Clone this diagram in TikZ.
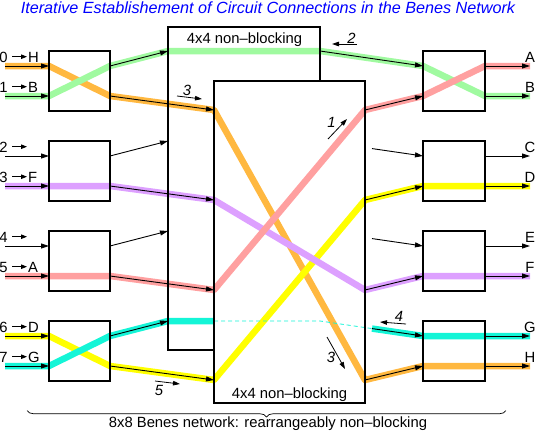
\documentclass[tikz,border=0pt]{standalone}
\usepackage{fontspec}
\setmainfont{Liberation Sans}
\usetikzlibrary{arrows.meta,calc,decorations.pathreplacing}
\definecolor{cOrange}{RGB}{255,184,64}
\definecolor{cGreen}{RGB}{160,250,160}
\definecolor{cRed}{RGB}{255,160,160}
\definecolor{cPurple}{RGB}{221,160,255}
\definecolor{cYellow}{RGB}{255,255,0}
\definecolor{cCyan}{RGB}{20,245,215}
\begin{document}
\begin{tikzpicture}[x=1pt,y=-1pt,
  every node/.style={inner sep=0pt, outer sep=0pt, font=\fontsize{14.8}{17}\selectfont},
  lab/.style={anchor=base},
  numlab/.style={anchor=base, font=\fontsize{14.8}{17}\selectfont\itshape},
  swbox/.style={draw=black, line width=2.2pt, minimum width=61pt, minimum height=60pt},
  boxline/.style={draw=black, line width=2.2pt},
  band/.style={line width=6.5pt, line join=round},
  flow/.style={line width=0.9pt, -{Triangle[length=8pt,width=5pt]}},
  labar/.style={line width=0.9pt, -{Triangle[length=6pt,width=4.5pt]}},
  stepar/.style={line width=0.8pt, -{Triangle[length=7pt,width=4.5pt]}},
  hiddenpath/.style={cCyan, line width=0.8pt, dash pattern=on 4pt off 3pt}
]
\useasboundingbox (0,0) rectangle (536,434);

% ---- ports ----
\foreach \k in {0,...,7}{
  \pgfmathsetmacro\yy{66+90*floor(\k/2)+30*mod(\k,2)}
  \coordinate (I\k) at (5,\yy);
  \coordinate (Li\k) at (49,\yy);
  \coordinate (Lo\k) at (110,\yy);
  \coordinate (Ri\k) at (423,\yy);
  \coordinate (Ro\k) at (485,\yy);
  \coordinate (E\k) at (530,\yy);
}
\foreach \j in {1,...,4}{
  \pgfmathsetmacro\ua{51+90*(\j-1)}
  \pgfmathsetmacro\da{110+90*(\j-1)}
  \coordinate (U\j) at (168,\ua);
  \coordinate (UO\j) at (320,\ua);
  \coordinate (D\j) at (214,\da);
  \coordinate (DO\j) at (365,\da);
}
\coordinate (U4h) at (214,321);
\coordinate (C2) at ($(UO2)!0.505!(Ri2)$);
\coordinate (C3) at ($(UO3)!0.505!(Ri4)$);
\coordinate (C4) at ($(UO4)!0.505!(Ri6)$);

% ---- coloured circuits ----
\draw[band,cOrange] (I0) -- (Li0) -- (Lo1) -- (D1) -- (DO4) -- (Ri7) -- (Ro7) -- (E7);
\draw[band,cYellow] (I6) -- (Li6) -- (Lo7) -- (D4) -- (DO2) -- (Ri3) -- (Ro3) -- (E3);
\draw[band,cPurple] (I3) -- (Li3) -- (Lo3) -- (D2) -- (DO3) -- (Ri5) -- (Ro5) -- (E5);
\draw[band,cGreen] (I1) -- (Li1) -- (Lo0) -- (U1) -- (UO1) -- (Ri0) -- (Ro1) -- (E1);
\draw[band,cRed] (I5) -- (Li5) -- (Lo5) -- (D3) -- (DO1) -- (Ri1) -- (Ro0) -- (E0);
\draw[band,cCyan] (I7) -- (Li7) -- (Lo6) -- (U4) -- (U4h);
\draw[band,cCyan] (C4) -- (Ri6) -- (Ro6) -- (E6);
\draw[hiddenpath] (U4h) -- (UO4) -- (C4);

% ---- switches ----
\foreach \r/\yc in {1/81,2/171,3/261,4/351}{
  \node[swbox] (LB\r) at (79.5,\yc) {};
  \node[swbox, minimum width=62pt] (RB\r) at (454,\yc) {};
}
\coordinate (UBa) at (214,350);
\coordinate (UBb) at (168,350);
\coordinate (UBc) at (168,27);
\coordinate (UBd) at (320,27);
\coordinate (UBe) at (320,81);
\draw[boxline] (UBa) -- (UBb) -- (UBc) -- (UBd) -- (UBe);
\node[draw=black, line width=2.2pt, minimum width=151pt, minimum height=322pt] (LOW) at (289.5,242) {};

% ---- black connection arrows ----
\foreach \k in {0,...,7}{
  \draw[flow] (I\k) -- (Li\k);
  \draw[flow] (Ro\k) -- (E\k);
}
\draw[flow] (Lo0) -- (U1);
\draw[flow] (Lo1) -- (D1);
\draw[flow] (Lo2) -- (U2);
\draw[flow] (Lo3) -- (D2);
\draw[flow] (Lo4) -- (U3);
\draw[flow] (Lo5) -- (D3);
\draw[flow] (Lo6) -- (U4);
\draw[flow] (Lo7) -- (D4);
\draw[flow] (UO1) -- (Ri0);
\draw[flow] (C2) -- (Ri2);
\draw[flow] (C3) -- (Ri4);
\draw[flow] (C4) -- (Ri6);
\draw[flow] (DO1) -- (Ri1);
\draw[flow] (DO2) -- (Ri3);
\draw[flow] (DO3) -- (Ri5);
\draw[flow] (DO4) -- (Ri7);

% ---- input labels ----
\foreach \k/\d/\t in {0/0/H,1/1/B,2/2/,3/3/F,4/4/,5/5/A,6/6/D,7/7/G}{
  \pgfmathsetmacro\yy{66+90*floor(\k/2)+30*mod(\k,2)}
  \node[lab] (dg\k) at (3.5,\yy-4) {\d};
  \node[anchor=base west] (lt\k) at (28,\yy-4) {\t};
  \coordinate (las\k) at (12,\yy-9.3);
  \coordinate (lae\k) at (27,\yy-9.3);
  \draw[labar] (las\k) -- (lae\k);
}
% ---- output labels ----
\foreach \k/\t in {0/A,1/B,2/C,3/D,4/E,5/F,6/G,7/H}{
  \pgfmathsetmacro\yy{66+90*floor(\k/2)+30*mod(\k,2)}
  \node[lab] (ol\k) at (530,\yy-4) {\t};
}

% ---- box labels, title, footer ----
\node[lab] (tUp) at (244.5,43.5) {4x4 non–blocking};
\node[lab] (tLow) at (289.5,398) {4x4 non–blocking};
\node[anchor=base, text=blue, font=\fontsize{16.2}{19}\selectfont\itshape] (title) at (268,13.5)
  {Iterative Establishement of Circuit Connections in the Benes Network};
\node[lab] (foot) at (268,427) {8x8 Benes network: rearrangeably non–blocking};
\coordinate (BRa) at (27,410.5);
\coordinate (BRb) at (506,410.5);
\draw[decorate, decoration={brace, mirror, amplitude=6.5pt}, line width=0.7pt] (BRa) -- (BRb);

% ---- step annotations ----
\coordinate (s1a) at (328,139); \coordinate (s1b) at (347,119);
\draw[stepar] (s1a) -- (s1b);
\node[numlab] (n1) at (331.5,127) {1};
\coordinate (s2a) at (357,44); \coordinate (s2b) at (332,44);
\draw[stepar] (s2a) -- (s2b);
\node[numlab] (n2) at (351.5,43.5) {2};
\coordinate (s3a) at (177,96); \coordinate (s3b) at (202,99);
\draw[stepar] (s3a) -- (s3b);
\node[numlab] (n3) at (187,95.5) {3};
\coordinate (s4a) at (406,324); \coordinate (s4b) at (380,322);
\draw[stepar] (s4a) -- (s4b);
\node[numlab] (n4) at (399,321) {4};
\coordinate (s6a) at (327,337); \coordinate (s6b) at (345,369);
\draw[stepar] (s6a) -- (s6b);
\node[numlab] (n6) at (331,362) {3};
\coordinate (s5a) at (155,381); \coordinate (s5b) at (180,384);
\draw[stepar] (s5a) -- (s5b);
\node[numlab] (n5) at (159,395) {5};
\end{tikzpicture}
\end{document}
